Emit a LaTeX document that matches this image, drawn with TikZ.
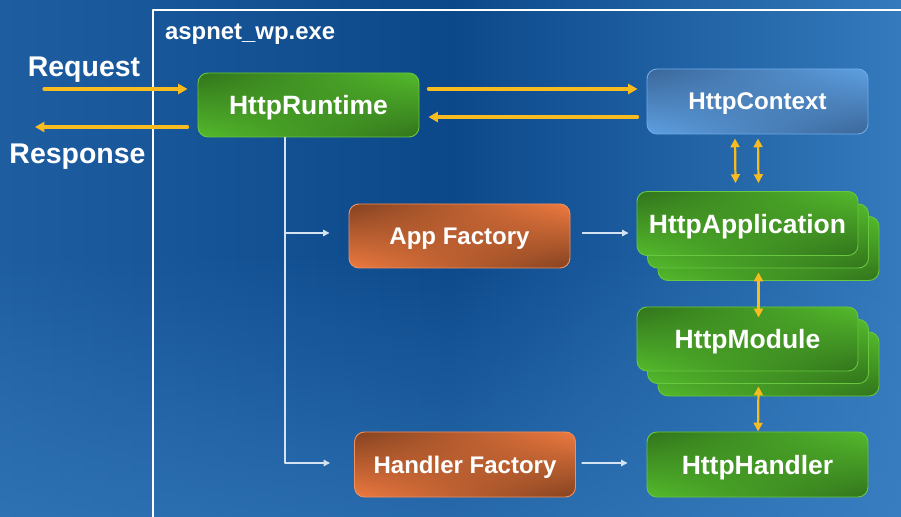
\documentclass[tikz,border=0pt]{standalone}
\usepackage{fontspec}
\setmainfont{Liberation Sans}
\usetikzlibrary{arrows.meta,calc,fadings,shadings}
\definecolor{bgdeep}{RGB}{11,72,138}
\definecolor{bgleft}{RGB}{30,94,160}
\definecolor{bgright}{RGB}{52,122,188}
\definecolor{bglow}{RGB}{58,128,194}
\definecolor{grdark}{RGB}{50,116,28}
\definecolor{grlite}{RGB}{84,186,44}
\definecolor{grline}{RGB}{104,198,64}
\definecolor{ordark}{RGB}{132,66,32}
\definecolor{orlite}{RGB}{238,122,64}
\definecolor{orline}{RGB}{242,142,92}
\definecolor{bldark}{RGB}{58,102,152}
\definecolor{bllite}{RGB}{94,160,226}
\definecolor{blline}{RGB}{110,170,234}
\definecolor{arrowgold}{RGB}{248,188,32}
\definecolor{wirewhite}{RGB}{212,226,242}

\begin{document}
\begin{tikzpicture}[x=0.03cm,y=-0.03cm,line cap=round,line join=round,
  box/.style={rounded corners=0.3cm,minimum width=6.63cm,minimum height=1.92cm,inner sep=0pt,text depth=0pt,line width=0.8pt,text=white,font=\bfseries\fontsize{22.6}{26}\selectfont},
  greenbox/.style={box,draw=grline,upper left=grdark,upper right=grlite,lower left=grlite,lower right=grdark},
  orangebox/.style={box,draw=orline,upper left=ordark,upper right=orlite,lower left=orlite,lower right=ordark,font=\bfseries\fontsize{20.5}{24}\selectfont},
  bluebox/.style={box,draw=blline,upper left=bldark,upper right=bllite,lower left=bllite,lower right=bldark,font=\bfseries\fontsize{20.6}{24}\selectfont},
  sidelabel/.style={text=white,font=\bfseries\fontsize{24.3}{28}\selectfont},
  goldarr/.style={draw=arrowgold,line width=2.7pt,-{Triangle[length=8pt,width=8.5pt]}},
  duo/.style={draw=arrowgold,line width=1.9pt,{Triangle[length=7.5pt,width=7.5pt]}-{Triangle[length=7.5pt,width=7.5pt]}},
  wire/.style={draw=wirewhite,line width=1.1pt},
  wirearr/.style={wire,-{Triangle[length=5.5pt,width=5.5pt]}}]
\useasboundingbox (0,0) rectangle (901,517);
% backdrop
\shade[left color=bgleft,right color=bgright,middle color=bgdeep] (0,0) rectangle (901,517);
\fill[bglow,path fading=north,opacity=0.6] (0,250) rectangle (901,517);
\draw[white,line width=1.7pt] (153,520) -- (153,10) -- (904,10);
\node[text=white,font=\bfseries\fontsize{20.4}{24}\selectfont,anchor=west] (proc) at (161,34) {aspnet\_wp.exe};
% request side
\node[sidelabel] (reqlabel) at (84,70) {Request};
\node[sidelabel] (resplabel) at (77.5,157) {Response};
\coordinate (req) at (44,89);
\coordinate (resp) at (35,127);
% boxes
\node[greenbox] (rt) at (308.5,105) {HttpRuntime};
\node[bluebox,minimum height=1.95cm] (ctx) at (757.5,101.5) {HttpContext};
\node[orangebox] (appf) at (459.5,236) {App Factory};
\node[orangebox,minimum height=1.95cm] (hndf) at (465,464.5) {Handler Factory};
\node[greenbox,minimum height=1.95cm] (hnd) at (757.5,464.5) {HttpHandler};
\node[greenbox] (app3) at (768.5,248.5) {};
\node[greenbox] (app2) at ([shift={(-10.5,-12.5)}]app3.center) {};
\node[greenbox] (app) at ([shift={(-10.5,-12.5)}]app2.center) {HttpApplication};
\node[greenbox] (mod3) at (768.5,364) {};
\node[greenbox] (mod2) at ([shift={(-10.5,-12.5)}]mod3.center) {};
\node[greenbox] (mod) at ([shift={(-10.5,-12.5)}]mod2.center) {HttpModule};
% gold arrows
\draw[goldarr] (req) -- ($(rt.west)+(-10,-16)$);
\draw[goldarr] ($(rt.west)+(-10,22)$) -- (resp);
\draw[goldarr] ($(rt.east)+(9,-16)$) -- ($(ctx.west)+(-9,-12.5)$);
\draw[goldarr] ($(ctx.west)+(-9,15.5)$) -- ($(rt.east)+(9,12)$);
\draw[duo] ($(ctx.south)+(-22.5,4)$) -- ($(app.north)+(-12,-8)$);
\draw[duo] ($(ctx.south)+(0.5,4)$) -- ($(app.north)+(11,-8)$);
\draw[duo] ($(app.south)+(11,16.5)$) -- ($(mod.north)+(11,11)$);
\draw[duo] ($(mod.south)+(11,15)$) -- ($(hnd.north)+(0.5,0)$);
% white wiring
\coordinate (trunk) at ($(rt.south)+(-23.5,0)$);
\coordinate (appjoin) at ($(trunk |- appf.west)+(0,-3)$);
\coordinate (hndjoin) at ($(trunk |- hndf.west)+(0,-1.5)$);
\draw[wire] (trunk) -- (hndjoin);
\draw[wirearr,shorten >=0.57cm] (appjoin) -- (appjoin -| appf.west);
\draw[wirearr,shorten >=0.72cm] (hndjoin) -- (hndjoin -| hndf.west);
\draw[wirearr] ($(appf.east)+(12,-3)$) -- ($(app.west)+(-8,9.5)$);
\draw[wirearr] ($(hndf.east)+(6,-1.5)$) -- ($(hnd.west)+(-19,-1.5)$);
\end{tikzpicture}
\end{document}
